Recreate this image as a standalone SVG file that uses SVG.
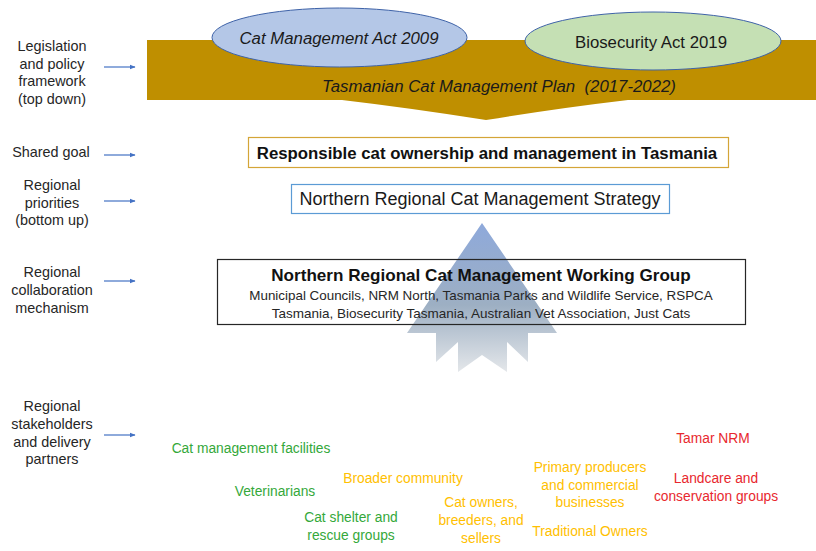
<svg xmlns="http://www.w3.org/2000/svg" width="816" height="551" viewBox="0 0 816 551">
  <style>
    text { font-family: "Liberation Sans", Arial, sans-serif; }
    .lbl { font-size: 14.4px; fill: #262626; text-anchor: middle; }
    .act { font-size: 16.8px; fill: #1a1a1a; text-anchor: middle; }
    .it { font-style: italic; }
    .stk { font-size: 13.8px; text-anchor: middle; }
    .g { fill: #34A83A; }
    .y { fill: #FFC000; }
    .r { fill: #E8282E; }
    .pointer { stroke: #4472C4; stroke-width: 1.2; fill: none; marker-end: url(#tip); }
  </style>
  <defs>
    <marker id="tip" viewBox="0 0 10 10" refX="9" refY="5" markerWidth="6" markerHeight="6" orient="auto" markerUnits="userSpaceOnUse">
      <path d="M0,1 L10,5 L0,9 z" fill="#4472C4"/>
    </marker>
    <linearGradient id="upGrad" x1="0" y1="223" x2="0" y2="372" gradientUnits="userSpaceOnUse">
      <stop offset="0" stop-color="#8EA9DB"/>
      <stop offset="0.55" stop-color="#9DAFC3"/>
      <stop offset="1" stop-color="#E4E7EA"/>
    </linearGradient>
  </defs>

  <rect width="816" height="551" fill="#ffffff"/>

  <!-- side row labels -->
  <g id="row-labels">
    <text class="lbl" x="52" y="51">Legislation</text>
    <text class="lbl" x="52" y="68.5">and policy</text>
    <text class="lbl" x="52" y="86">framework</text>
    <text class="lbl" x="52" y="104">(top down)</text>
    <text class="lbl" x="51" y="157">Shared goal</text>
    <text class="lbl" x="52" y="190">Regional</text>
    <text class="lbl" x="52" y="207.5">priorities</text>
    <text class="lbl" x="52" y="225">(bottom up)</text>
    <text class="lbl" x="52" y="277">Regional</text>
    <text class="lbl" x="52" y="295">collaboration</text>
    <text class="lbl" x="52" y="312.5">mechanism</text>
    <text class="lbl" x="52" y="411">Regional</text>
    <text class="lbl" x="52" y="429">stakeholders</text>
    <text class="lbl" x="52" y="446.5">and delivery</text>
    <text class="lbl" x="52" y="464">partners</text>
  </g>

  <g id="connectors">
    <line class="pointer" x1="104" y1="67" x2="135" y2="67"/>
    <line class="pointer" x1="104" y1="155" x2="135" y2="155"/>
    <line class="pointer" x1="104" y1="201" x2="135" y2="201"/>
    <line class="pointer" x1="104" y1="281" x2="135" y2="281"/>
    <line class="pointer" x1="104" y1="435" x2="135" y2="435"/>
  </g>

  <!-- management plan banner -->
  <g id="plan">
    <path d="M147,40 H816 V100 H628 Q560,108 486,120 Q410,108 342,100 H147 Z" fill="#BF8F00"/>
    <text class="act it" x="499" y="92" xml:space="preserve">Tasmanian Cat Management Plan  (2017-2022)</text>
  </g>

  <g id="cat-act">
    <ellipse cx="339.5" cy="37.5" rx="127.5" ry="29.5" fill="#B4C7E7" stroke="#3F63A8" stroke-width="1"/>
    <text class="act it" x="339" y="44">Cat Management Act 2009</text>
  </g>

  <g id="biosecurity-act">
    <ellipse cx="653" cy="41" rx="128" ry="29" fill="#C5E0B4" stroke="#3F63A8" stroke-width="1"/>
    <text class="act" x="651" y="48">Biosecurity Act 2019</text>
  </g>

  <g id="shared-goal">
    <rect x="248.5" y="137.5" width="480" height="30" fill="#ffffff" stroke="#D4A537" stroke-width="1.2"/>
    <text x="487" y="159" font-size="16.8" font-weight="bold" fill="#111" text-anchor="middle">Responsible cat ownership and management in Tasmania</text>
  </g>

  <g id="regional-strategy">
    <rect x="291.5" y="184.5" width="378" height="29" fill="#ffffff" stroke="#5B9BD5" stroke-width="1.2"/>
    <text x="480" y="205" font-size="18" fill="#1a1a1a" text-anchor="middle">Northern Regional Cat Management Strategy</text>
  </g>

  <!-- bottom-up arrow behind the working group box -->
  <g id="bottom-up">
    <path d="M482,223 L557,333 H528 V362 L507,342 V372 L482,355 L458,372 V342 L436,362 V333 H407 Z" fill="url(#upGrad)"/>
  </g>

  <g id="working-group">
    <rect x="217.5" y="259.5" width="528" height="65" fill="none" stroke="#262626" stroke-width="1.2"/>
    <text x="481" y="281" font-size="17.1" font-weight="bold" fill="#111" text-anchor="middle">Northern Regional Cat Management Working Group</text>
    <text x="481" y="300" font-size="13.4" fill="#262626" text-anchor="middle">Municipal Councils, NRM North, Tasmania Parks and Wildlife Service, RSPCA</text>
    <text x="481" y="318" font-size="13.5" fill="#262626" text-anchor="middle">Tasmania, Biosecurity Tasmania, Australian Vet Association, Just Cats</text>
  </g>

  <!-- stakeholders and delivery partners -->
  <g id="cat-management-facilities"><text class="stk g" x="251" y="453">Cat management facilities</text></g>
  <g id="veterinarians"><text class="stk g" x="275" y="496">Veterinarians</text></g>
  <g id="cat-shelter"><text class="stk g" x="351" y="522">Cat shelter and</text><text class="stk g" x="351" y="540">rescue groups</text></g>
  <g id="broader-community"><text class="stk y" x="403" y="483">Broader community</text></g>
  <g id="cat-owners"><text class="stk y" x="481" y="507">Cat owners,</text><text class="stk y" x="481" y="525">breeders, and</text><text class="stk y" x="481" y="543">sellers</text></g>
  <g id="primary-producers"><text class="stk y" x="590" y="472">Primary producers</text><text class="stk y" x="590" y="490">and commercial</text><text class="stk y" x="590" y="507">businesses</text></g>
  <g id="traditional-owners"><text class="stk y" x="590" y="536">Traditional Owners</text></g>
  <g id="tamar-nrm"><text class="stk r" x="713" y="443">Tamar NRM</text></g>
  <g id="landcare"><text class="stk r" x="716" y="483">Landcare and</text><text class="stk r" x="716" y="501">conservation groups</text></g>
</svg>
